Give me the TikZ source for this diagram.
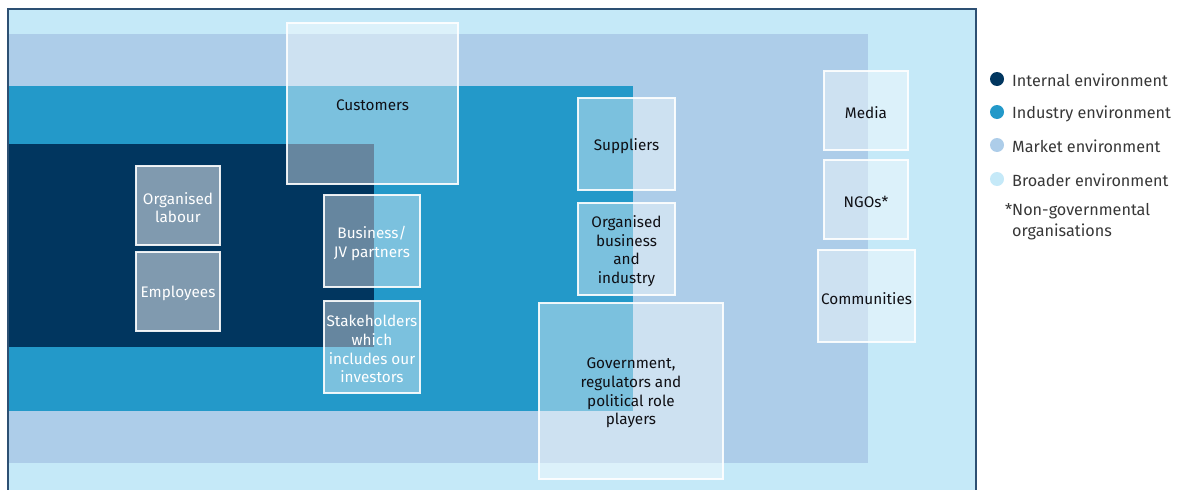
\documentclass[tikz,border=0pt]{standalone}
\usepackage{fontspec}
\setmainfont{Fira Sans}
\definecolor{cInternal}{RGB}{1,54,95}
\definecolor{cIndustry}{RGB}{35,153,201}
\definecolor{cMarket}{RGB}{173,205,233}
\definecolor{cBroader}{RGB}{197,233,248}
\definecolor{cFrame}{RGB}{45,80,115}
\definecolor{cText}{RGB}{15,15,20}
\definecolor{cLegend}{RGB}{55,55,55}
\begin{document}
\begin{tikzpicture}[x=1pt,y=-1pt,
  box/.style={draw=white, draw opacity=0.9, line width=1.3pt, fill=white, fill opacity=0.4,
    inner sep=0pt},
  brightbox/.style={box, fill opacity=0.5},
  btext/.style={inner sep=0pt, align=center, text=cText, yshift=-2.2pt, font=\fontsize{15.3}{18.7}\selectfont},
  wtext/.style={btext, text=white},
  legdot/.style={circle, inner sep=0pt, minimum size=14pt},
  legtext/.style={anchor=west, inner sep=0pt, text=cLegend, yshift=-1.5pt, font=\fontsize{16.2}{21}\selectfont}]
\useasboundingbox (0,0) rectangle (1184,490);
% layers
\fill[cBroader] (8,9) rectangle (976,490);
\fill[cMarket] (8,34) rectangle (868,463);
\fill[cIndustry] (8,86) rectangle (633,411);
\fill[cInternal] (8,144) rectangle (374,347);
\draw[cFrame, line width=1.2pt] (8,492) -- (8,9) -- (976,9) -- (976,492);
% boxes
\node[box, minimum width=171pt, minimum height=161pt] (cust) at (372.5,103.5) {};
\node[brightbox, minimum width=84pt, minimum height=79pt] (lab) at (178,205.5) {};
\node[brightbox, minimum width=84pt, minimum height=79pt] (emp) at (178,291.5) {};
\node[box, minimum width=96pt, minimum height=92pt] (jv) at (372,241) {};
\node[box, minimum width=96pt, minimum height=92pt] (stake) at (372,347) {};
\node[box, minimum width=97pt, minimum height=92pt] (sup) at (626.5,144) {};
\node[box, minimum width=97pt, minimum height=92pt] (orgb) at (626.5,249) {};
\node[box, minimum width=184pt, minimum height=176pt] (gov) at (631,391) {};
\node[box, minimum width=84pt, minimum height=79pt] (media) at (866,110.5) {};
\node[box, minimum width=84pt, minimum height=79pt] (ngo) at (866,199.5) {};
\node[box, minimum width=97pt, minimum height=92pt] (comm) at (866.5,296) {};
% box texts
\node[btext] (cust-t) at (cust) {Customers};
\node[wtext] (lab-t) at (lab) {Organised\\labour};
\node[wtext] (emp-t) at (emp) {Employees};
\node[wtext] (jv-t) at (jv) {Business/\\JV partners};
\node[wtext] (stake-t) at (stake) {Stakeholders\\which\\includes our\\investors};
\node[btext] (sup-t) at (sup) {Suppliers};
\node[btext] (orgb-t) at (orgb) {Organised\\business\\and\\industry};
\node[btext] (gov-t) at (gov) {Government,\\regulators and\\political role\\players};
\node[btext] (media-t) at (media) {Media};
\node[btext] (ngo-t) at (ngo) {NGOs*};
\node[btext] (comm-t) at (comm) {Communities};
% legend
\node[legdot, fill=cInternal] (d1) at (997,79) {};
\node[legdot, fill=cIndustry] (d2) at (997,112) {};
\node[legdot, fill=cMarket] (d3) at (997,145) {};
\node[legdot, fill=cBroader] (d4) at (997,179) {};
\node[legtext] (t1) at (1012,79) {Internal environment};
\node[legtext] (t2) at (1012,112) {Industry environment};
\node[legtext] (t3) at (1012,145) {Market environment};
\node[legtext] (t4) at (1012,179) {Broader environment};
\node[legtext, anchor=north west, align=left] (t5) at (1012,202) {\llap{*}Non-governmental\\organisations};
\end{tikzpicture}
\end{document}
